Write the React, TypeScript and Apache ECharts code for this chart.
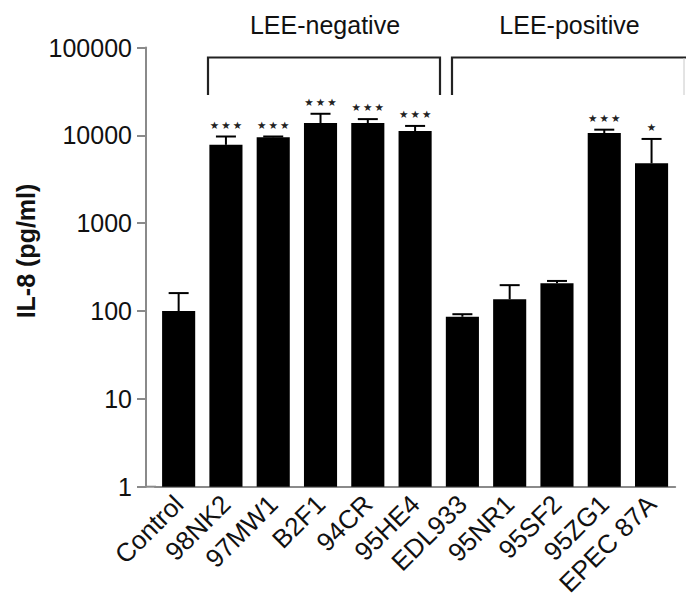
import React, { useEffect, useRef } from "react";
import * as echarts from "echarts";

const categories = ["Control", "98NK2", "97MW1", "B2F1", "94CR", "95HE4", "EDL933", "95NR1", "95SF2", "95ZG1", "EPEC 87A"];
const means = [100, 7800, 9500, 13800, 13800, 11200, 86, 136, 207, 10600, 4800];
const upperErr = [160, 9700, 9700, 17600, 15300, 12800, 92, 197, 220, 11600, 9100];
const significance = ["", "***", "***", "***", "***", "***", "", "", "", "***", "*"];
const yTicks = [1, 10, 100, 1000, 10000, 100000];
const groupLabels = ["LEE-negative", "LEE-positive"];
const yTitle = "IL-8 (pg/ml)";

const FONT = "'Liberation Sans', Arial, Helvetica, sans-serif";

export default function App() {
  const ref = useRef<HTMLDivElement>(null);
  useEffect(() => {
    if (!ref.current) return;
    const chart = echarts.init(ref.current, undefined, { renderer: "svg" });
    const errData = categories.map((_, i) => [i, means[i], upperErr[i], significance[i]]);
    const option = {
      animation: false,
      backgroundColor: "#ffffff",
      grid: { left: 155, right: 10.8, top: 47.5, bottom: 115.3, containLabel: false },
      xAxis: {
        type: "category",
        data: categories,
        axisLine: { show: true, lineStyle: { color: "#8a8a8a", width: 2 } },
        axisTick: { show: false },
        axisLabel: {
          rotate: 45,
          interval: 0,
          fontSize: 26,
          fontFamily: FONT,
          color: "#111",
          margin: 13,
        },
        splitLine: { show: false },
      },
      yAxis: {
        type: "log",
        logBase: 10,
        min: yTicks[0],
        max: yTicks[yTicks.length - 1],
        offset: 9,
        axisLine: { show: true, lineStyle: { color: "#8a8a8a", width: 2 } },
        axisTick: { show: true, length: 9, lineStyle: { color: "#8a8a8a", width: 2 } },
        axisLabel: {
          fontSize: 25,
          fontFamily: FONT,
          color: "#111",
          margin: 14,
          formatter: (v: number) => String(Math.round(v)),
        },
        splitLine: { show: false },
      },
      graphic: [
        { type: "line", shape: { x1: 145, y1: 486.7, x2: 156, y2: 486.7 }, style: { stroke: "#8a8a8a", lineWidth: 2 } },
        {
          type: "text",
          x: 25.5,
          y: 251,
          rotation: Math.PI / 2,
          style: { text: yTitle, fontSize: 25, fontWeight: "bold", fontFamily: FONT, fill: "#111", align: "center", verticalAlign: "middle" },
        },
        {
          type: "text",
          x: 325,
          y: 25,
          style: { text: groupLabels[0], fontSize: 25, fontFamily: FONT, fill: "#111", align: "center", verticalAlign: "middle" },
        },
        {
          type: "text",
          x: 569.5,
          y: 25,
          style: { text: groupLabels[1], fontSize: 25, fontFamily: FONT, fill: "#111", align: "center", verticalAlign: "middle" },
        },
        {
          type: "polyline",
          shape: { points: [[208, 95], [208, 57.5], [440, 57.5], [440, 95]] },
          style: { stroke: "#222", lineWidth: 2.2, fill: null },
        },
        {
          type: "polyline",
          shape: { points: [[452, 95], [452, 57.5], [686, 57.5]] },
          style: { stroke: "#222", lineWidth: 2.2, fill: null },
        },
        { type: "line", shape: { x1: 684, y1: 58, x2: 684, y2: 95 }, style: { stroke: "#c8c8c8", lineWidth: 1 } },
      ],
      series: [
        {
          type: "bar",
          data: means,
          barCategoryGap: "30%",
          itemStyle: { color: "#000" },
          z: 2,
        },
        {
          type: "custom",
          data: errData,
          z: 3,
          renderItem: (params: any, api: any) => {
            const x = api.value(0);
            const pm = api.coord([x, api.value(1)]);
            const pu = api.coord([x, api.value(2)]);
            const sig = significance[params.dataIndex];
            const children: any[] = [
              { type: "line", shape: { x1: pm[0], y1: pm[1], x2: pu[0], y2: pu[1] }, style: { stroke: "#000", lineWidth: 2 } },
              { type: "line", shape: { x1: pu[0] - 10, y1: pu[1], x2: pu[0] + 10, y2: pu[1] }, style: { stroke: "#000", lineWidth: 2 } },
            ];
            if (sig) {
              children.push({
                type: "text",
                x: pu[0],
                y: pu[1] - 12,
                style: {
                  text: sig.split("").map(() => "\u2605").join("\u2009"),
                  fontSize: 10.5,
                  fontFamily: "'DejaVu Sans', sans-serif",
                  fill: "#222",
                  align: "center",
                  verticalAlign: "middle",
                },
              });
            }
            return { type: "group", children };
          },
        },
      ],
    };
    chart.setOption(option as any);
    return () => chart.dispose();
  }, []);
  return <div ref={ref} style={{ position: "absolute", left: 0, top: 0, width: 686, height: 602 }} />;
}
